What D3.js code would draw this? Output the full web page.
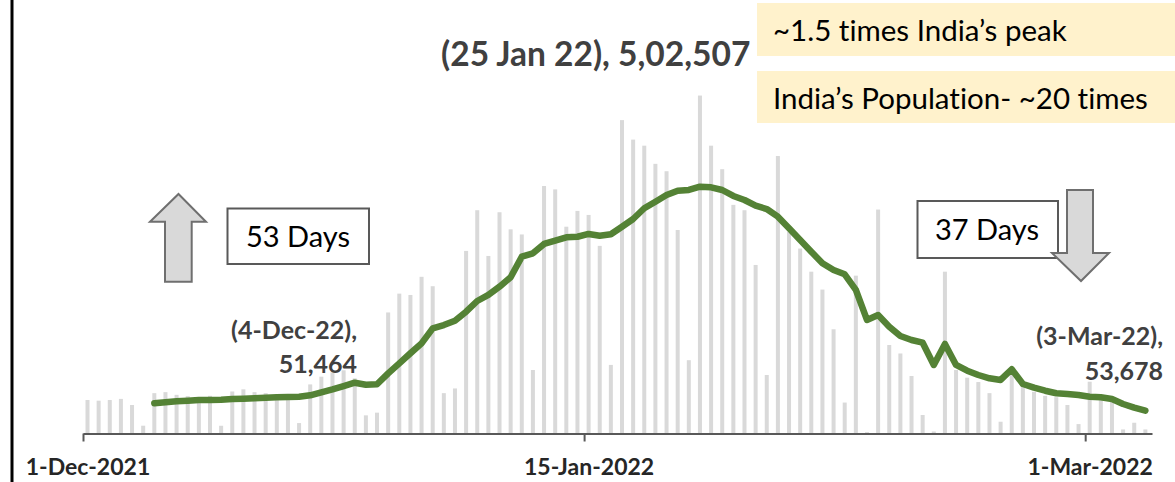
<!DOCTYPE html>
<html>
<head>
<meta charset="utf-8">
<script src="https://cdn.jsdelivr.net/npm/d3@7"></script>
<style>
  html, body { margin: 0; padding: 0; background: #fff; }
  svg { display: block; font-family: Lato, "Open Sans", sans-serif; font-variant-ligatures: none; }
</style>
</head>
<body>
<svg id="graph" width="1175" height="482"></svg>
<script>
// daily new cases, 1 Dec 2021 .. 6 Mar 2022
const startDay = new Date(Date.UTC(2021, 11, 1));
const endDay = new Date(Date.UTC(2022, 2, 7));
const days = d3.utcDay.range(startDay, endDay);

const cases = [
  49800, 48800, 49800, 51464, 42400, 11600, 60000, 61500, 57500, 55500,
  54000, 56000, 11500, 62500, 65700, 61500, 60000, 58000, 56500, 15500,
  73000, 84500, 91000, 94000, 82000, 27000, 31000, 180000, 208000, 206000,
  233000, 219000, 60000, 67000, 271500, 332000, 264000, 329000, 303600, 296000,
  94400, 368000, 363000, 307500, 331000, 325000, 279000, 102000, 466000, 437000,
  428000, 401000, 390000, 302600, 109000, 502507, 428000, 393000, 340000, 332000,
  250600, 87000, 412600, 300000, 275000, 240600, 214000, 155000, 46000, 234700,
  2000, 333000, 131600, 119000, 85500, 27500, 3000, 240600, 94400, 83000,
  76500, 60000, 17500, 95000, 74000, 62000, 56000, 54000, 42400, 14000,
  77000, 50000, 53678, 6000, 16000, 6000
];

// 7-day average as drawn (starts 7 Dec)
const avg7 = [
  null, null, null, null, null, null,
  44900, 46400, 47900, 48800, 49800, 49800, 50300, 51300, 51700, 52300,
  53200, 53800, 54300, 54700, 56800, 61300, 65700, 70600, 75500, 72600,
  73200, 89500, 104400, 119300, 134100, 156400, 161300, 167700, 181100, 197000,
  206000, 218300, 232300, 262900, 268000, 281800, 286700, 291700, 292600, 296700,
  294100, 296200, 307500, 319000, 334900, 344700, 354600, 361000, 362100, 367000,
  366100, 362100, 353200, 347200, 338700, 333800, 322400, 305100, 287700, 270300,
  253100, 243100, 236700, 213400, 168800, 176200, 158800, 145000, 139000, 135000,
  101900, 133100, 101900, 93400, 87000, 82100, 79600, 95500, 73600, 68100,
  63600, 59800, 58700, 57200, 54700, 53800, 51300, 43900, 38400, 33900
];

const tickDates = [
  new Date(Date.UTC(2021, 11, 1)),
  new Date(Date.UTC(2022, 0, 15)),
  new Date(Date.UTC(2022, 2, 1))
];
const tickLabels = ["1-Dec-2021", "15-Jan-2022", "1-Mar-2022"];

const peakLabel = "(25 Jan 22), 5,02,507";
const startLabel = ["(4-Dec-22),", "51,464"];
const endLabel = ["(3-Mar-22),", "53,678"];
const noteLines = ["~1.5 times India\u2019s peak", "India\u2019s Population- ~20 times"];

const svg = d3.select("#graph");
const x = d3.scaleUtc().domain([startDay, endDay]).range([83, 1152]);
const y = d3.scaleLinear().domain([0, 520000]).range([433.5, 83.8]);
const half = 4.5; // bars sit a little right of the date tick

// left frame line
svg.append("line")
  .attr("x1", 12).attr("x2", 12).attr("y1", 0).attr("y2", 482)
  .attr("stroke", "#000").attr("stroke-width", 3);

// bars
svg.append("g")
  .selectAll("rect")
  .data(days)
  .join("rect")
  .attr("x", (d) => x(d) + half - 2)
  .attr("width", 4)
  .attr("y", (d, i) => y(cases[i]))
  .attr("height", (d, i) => y(0) - y(cases[i]))
  .attr("fill", "#d9d9d9");

// x axis
const axis = svg.append("g")
  .attr("transform", `translate(0,${y(0)})`)
  .call(d3.axisBottom(x).tickValues(tickDates).tickSize(8).tickSizeOuter(0).tickFormat(""));
axis.select(".domain").attr("stroke", "#595959").attr("stroke-width", 2);
axis.selectAll(".tick line").attr("stroke", "#595959").attr("stroke-width", 2);

svg.append("g")
  .selectAll("text")
  .data(tickDates)
  .join("text")
  .attr("x", (d) => x(d) + 5)
  .attr("y", 475)
  .attr("text-anchor", "middle")
  .attr("font-weight", "bold")
  .attr("font-size", 23)
  .attr("fill", "#262626")
  .text((d, i) => tickLabels[i]);

// 7-day average line
const line = d3.line()
  .defined((d, i) => avg7[i] != null)
  .x((d) => x(d) + half)
  .y((d, i) => y(avg7[i]));

svg.append("path")
  .datum(days)
  .attr("fill", "none")
  .attr("stroke", "#548235")
  .attr("stroke-width", 6.5)
  .attr("stroke-linejoin", "round")
  .attr("stroke-linecap", "round")
  .attr("d", line);

// peak label
svg.append("text")
  .attr("x", 441).attr("y", 66)
  .attr("font-size", 33.5).attr("font-weight", "bold").attr("fill", "#404040")
  .text(peakLabel);

// yellow note boxes
[[3, 56], [71, 123]].forEach((b, i) => {
  svg.append("rect")
    .attr("x", 757).attr("y", b[0]).attr("width", 430).attr("height", b[1] - b[0])
    .attr("fill", "#fff2cc");
  svg.append("text")
    .attr("x", 773).attr("y", b[0] + 38)
    .attr("font-size", 29.5).attr("fill", "#000")
    .text(noteLines[i]);
});

// start / end labels
function twoLine(lines, xr, y1, y2) {
  svg.append("g")
    .attr("font-size", 25).attr("font-weight", "bold").attr("fill", "#404040")
    .attr("text-anchor", "end")
    .call((g) => {
      g.append("text").attr("x", xr).attr("y", y1).text(lines[0]);
      g.append("text").attr("x", xr).attr("y", y2).text(lines[1]);
    });
}
twoLine(startLabel, 357, 339, 373);
twoLine(endLabel, 1163, 345, 380);

// up arrow + 53 days
svg.append("path")
  .attr("d", "M178.5,194 L206,221.7 L191.7,221.7 L191.7,281.7 L165,281.7 L165,221.7 L150,221.7 Z")
  .attr("fill", "#d9d9d9").attr("stroke", "#6f6f6f").attr("stroke-width", 2);
svg.append("rect")
  .attr("x", 227.5).attr("y", 208.5).attr("width", 141.5).attr("height", 55.5)
  .attr("fill", "#fff").attr("stroke", "#595959").attr("stroke-width", 2);
svg.append("text")
  .attr("x", 298).attr("y", 247).attr("text-anchor", "middle")
  .attr("font-size", 29).attr("fill", "#000").text("53 Days");

// 37 days + down arrow
svg.append("rect")
  .attr("x", 917.5).attr("y", 201).attr("width", 140.5).attr("height", 57)
  .attr("fill", "#fff").attr("stroke", "#595959").attr("stroke-width", 2);
svg.append("text")
  .attr("x", 987).attr("y", 240).attr("text-anchor", "middle")
  .attr("font-size", 29).attr("fill", "#000").text("37 Days");
svg.append("path")
  .attr("d", "M1067,190 L1093,190 L1093,253 L1109,253 L1081,281 L1052,253 L1067,253 Z")
  .attr("fill", "#d9d9d9").attr("stroke", "#6f6f6f").attr("stroke-width", 2);
</script>
</body>
</html>
